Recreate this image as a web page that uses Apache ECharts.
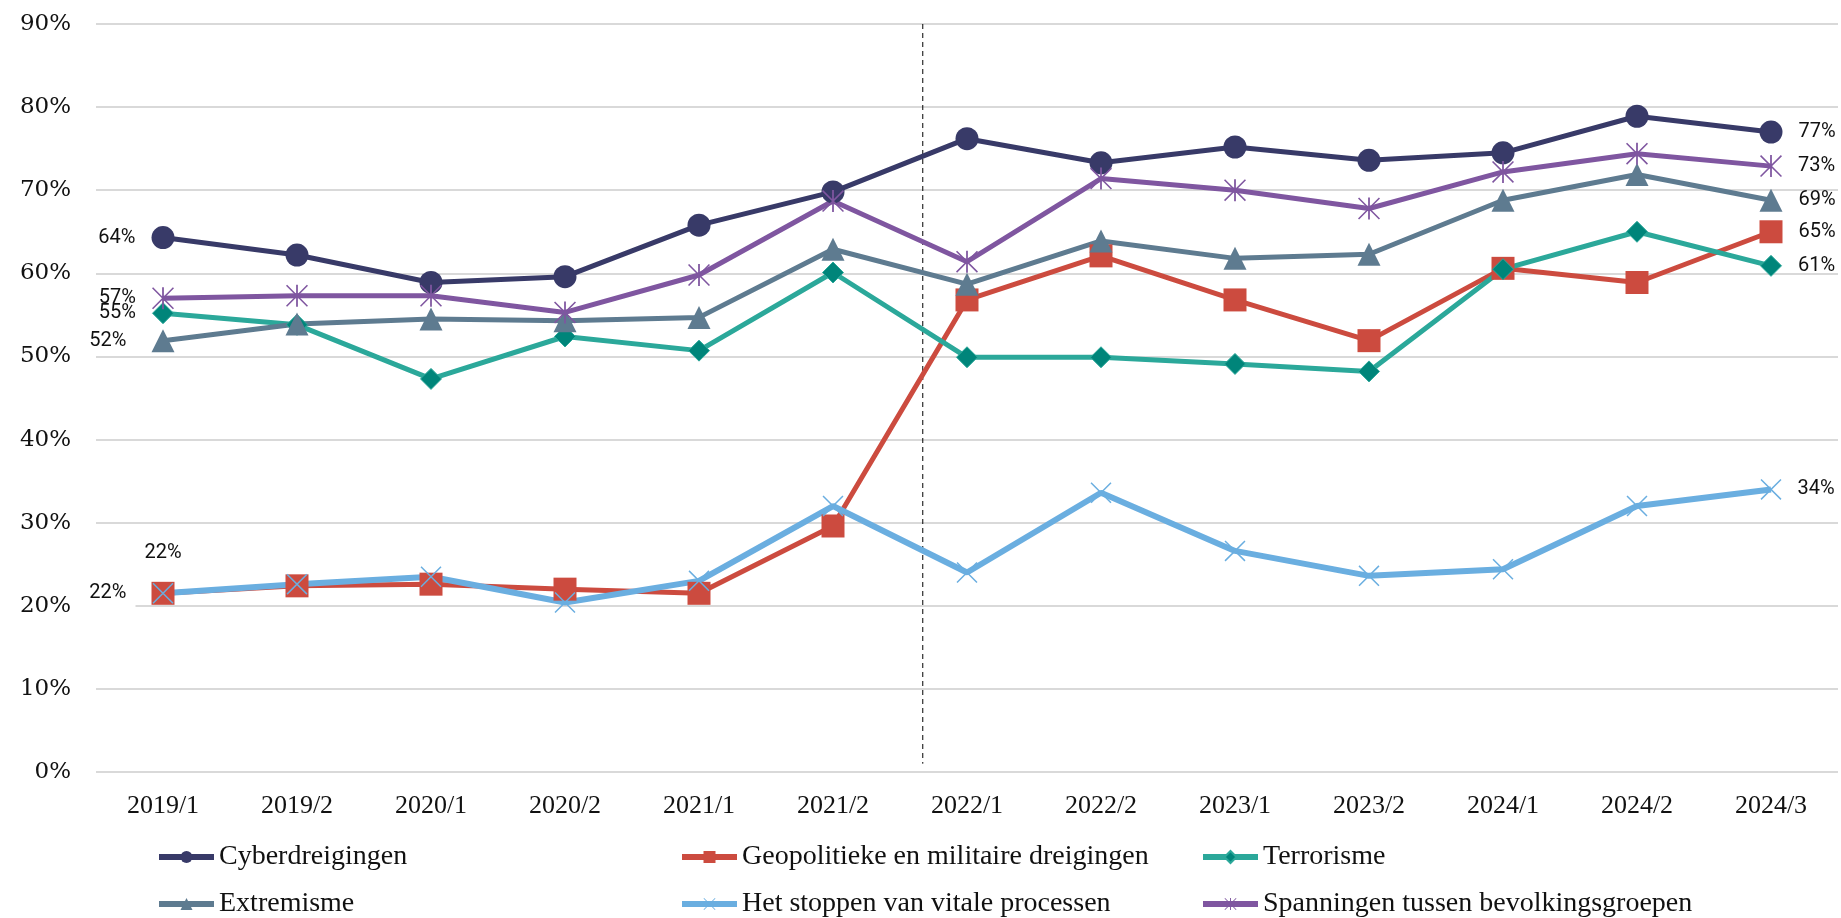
<!DOCTYPE html>
<html>
<head>
<meta charset="utf-8">
<style>
  html, body { margin: 0; padding: 0; background: #fff; }
  #chart { width: 1841px; height: 918px; }
</style>
<script src="https://cdn.jsdelivr.net/npm/echarts@6/dist/echarts.min.js"></script>
</head>
<body>
<div id="chart"></div>
<script>
const categories = ['2019/1', '2019/2', '2020/1', '2020/2', '2021/1', '2021/2', '2022/1',
  '2022/2', '2023/1', '2023/2', '2024/1', '2024/2', '2024/3']

const cyber = [64.3, 62.2, 58.9, 59.6, 65.8, 69.8, 76.2, 73.3, 75.2, 73.6, 74.5, 78.9, 77.0]
const geopolitiek = [21.5, 22.4, 22.6, 22.0, 21.5, 29.6, 56.8, 62.1, 56.8, 51.9, 60.6, 58.9, 65.0]
const terrorisme = [55.2, 53.8, 47.3, 52.4, 50.7, 60.1, 49.9, 49.9, 49.1, 48.2, 60.5, 65.0, 60.9]
const extremisme = [51.9, 53.9, 54.5, 54.3, 54.7, 62.9, 58.7, 63.9, 61.8, 62.3, 68.8, 71.9, 68.8]
const vitaleProcessen = [21.5, 22.6, 23.5, 20.4, 23.0, 32.0, 24.0, 33.6, 26.6, 23.6, 24.4, 32.0, 34.0]
const spanningen = [57.0, 57.3, 57.3, 55.3, 59.8, 68.7, 61.4, 71.4, 70.0, 67.8, 72.2, 74.4, 72.9]

const seriesNames = ['Cyberdreigingen', 'Geopolitieke en militaire dreigingen', 'Terrorisme',
  'Extremisme', 'Het stoppen van vitale processen', 'Spanningen tussen bevolkingsgroepen']

// position of the dashed separator, in category steps (between 2021/2 and 2022/1)
const separatorAt = 5.67
const separatorRange = [90, 1]

const yTicks = { min: 0, max: 90, interval: 10 }

const starPath = 'path://M46 0L54 0L54 100L46 100Z M0 5L5 0L100 95L95 100Z M95 0L100 5L5 100L0 95Z'
const crossPath = 'path://M0 5L5 0L100 95L95 100Z M95 0L100 5L5 100L0 95Z'

const labelFont = { fontFamily: 'Roboto', fontSize: 20, color: '#111' }

function withEndLabels(values, firstPos, firstOpts) {
  return values.map((v, i) => {
    if (i === 0) {
      return { value: v, label: Object.assign({ show: true, position: firstPos, distance: 16 }, labelFont, firstOpts || {}) }
    }
    if (i === values.length - 1) {
      return { value: v, label: Object.assign({ show: true, position: 'right', distance: 16 }, labelFont) }
    }
    return v
  })
}

function lineSeries(name, values, color, symbol, size, opts) {
  return Object.assign({
    name: name,
    type: 'line',
    data: values,
    symbol: symbol,
    symbolSize: size,
    lineStyle: { color: color, width: 5 },
    itemStyle: { color: color },
    label: { show: false, formatter: p => Math.round(p.value) + '%' },
    emphasis: { disabled: true },
    animation: false
  }, opts || {})
}

// one legend per item so the columns line up like the original
const legendCols = [156, 679, 1200]
const legendRows = [843, 890]
const legends = seriesNames.map((name, i) => ({
  data: [name],
  left: legendCols[i % 3],
  top: legendRows[Math.floor(i / 3)],
  padding: 0,
  itemWidth: 55,
  itemHeight: 15,
  lineStyle: { width: 6 },
  textStyle: { fontFamily: 'Liberation Serif', fontSize: 28, color: '#111' }
}))

const chart = echarts.init(document.getElementById('chart'))

chart.setOption({
  backgroundColor: '#fff',
  grid: { left: 96, right: 3, top: 24, bottom: 146, containLabel: false },
  legend: legends,
  xAxis: [
    {
      type: 'category',
      data: categories,
      axisLine: { show: false },
      axisTick: { show: false },
      axisLabel: { fontFamily: 'Liberation Serif', fontSize: 26, color: '#111', margin: 21 }
    },
    {
      type: 'value',
      min: -0.5,
      max: categories.length - 0.5,
      show: false
    }
  ],
  yAxis: {
    type: 'value',
    min: yTicks.min,
    max: yTicks.max,
    interval: yTicks.interval,
    axisLine: { show: false },
    axisTick: { show: false },
    axisLabel: { formatter: '{value}%', fontFamily: 'DejaVu Serif', fontSize: 23, color: '#111', margin: 25 },
    splitLine: { lineStyle: { color: '#d9d9d9', width: 2 } }
  },
  series: [
    lineSeries(seriesNames[0], withEndLabels(cyber, 'left'), '#383a68', 'circle', 23),
    lineSeries(seriesNames[1],
      withEndLabels(geopolitiek, 'left', { backgroundColor: '#fff', padding: [2, 9, 8, 2] }),
      '#cc4b3f', 'rect', 23),
    lineSeries(seriesNames[2], withEndLabels(terrorisme, 'left'), '#2ba89a', 'diamond', [21, 21], {
      itemStyle: { color: '#00857a', borderColor: '#2ba89a', borderWidth: 1 }
    }),
    lineSeries(seriesNames[3],
      withEndLabels(extremisme, 'left', { backgroundColor: '#fff', padding: [2, 9, 8, 2] }),
      '#5e7b90', 'triangle', 23),
    lineSeries(seriesNames[4], withEndLabels(vitaleProcessen, 'top', { distance: 20 }),
      '#6aaee0', crossPath, 21, { lineStyle: { color: '#6aaee0', width: 6 } }),
    lineSeries(seriesNames[5], withEndLabels(spanningen, 'left'), '#7f56a0', starPath, 22),
    {
      name: 'separator',
      type: 'line',
      xAxisIndex: 1,
      data: separatorRange.map(v => [separatorAt, v]),
      symbol: 'none',
      lineStyle: { color: '#000', width: 1, type: [5, 4] },
      silent: true,
      animation: false,
      z: 1
    }
  ]
})
</script>
</body>
</html>
